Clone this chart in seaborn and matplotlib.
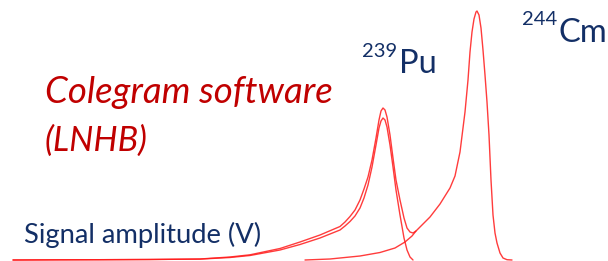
import matplotlib

matplotlib.use("Agg")
import matplotlib.pyplot as plt
import pandas as pd
import seaborn as sns

# ------------------------------
# DATA (amplitude in arbitrary units, counts above baseline)
# ------------------------------
pu_x = [13, 60, 100, 150, 200, 230, 250, 280, 300, 320, 340, 345, 350, 355, 360, 364,
        368, 372, 376, 379, 381, 383, 385, 387, 390, 393, 396, 400, 404, 407, 410, 413]
pu_counts = [0, 0.2, 0.3, 0.5, 0.9, 2.5, 4.5, 10, 15.5, 22, 30, 34, 38.5, 44, 52, 62,
             75, 93, 115, 132, 139, 142, 140, 133, 115, 93, 70, 45, 22, 10, 3, 0]

total_x = [13, 60, 100, 150, 200, 230, 250, 280, 300, 320, 340, 345, 350, 355, 360, 364,
           368, 372, 376, 379, 381, 383, 385, 387, 390, 393, 396, 400, 404, 407, 410, 413, 416]
total_counts = [0, 0.2, 0.3, 0.5, 1.0, 3, 5.2, 11.5, 18, 25, 33.5, 38, 43.5, 50, 60, 71,
                83, 100, 122, 140, 149, 152, 150, 143, 125, 102, 80, 60, 42, 32, 28, 27, 29]

cm_x = [305, 330, 360, 380, 395, 405, 412, 416, 420, 430, 440, 450, 455, 460,
        465, 468, 470, 472, 474, 476, 477, 479, 481, 483, 485, 487, 489, 491, 493,
        495, 497, 500, 503, 507, 512]
cm_counts = [0, 1.0, 4, 7.5, 12, 18, 24, 29, 33, 43, 56, 72, 84, 108,
             148, 180, 208, 228, 241, 248, 249, 245, 232, 210, 185, 158, 125, 80, 45,
             27, 17, 7, 2, 0.3, 0]

labels = {
    "software": ["Colegram software", "(LNHB)"],
    "axis": "Signal amplitude (V)",
    "pu": ("239", "Pu"),
    "cm": ("244", "Cm"),
}

# ------------------------------
# STYLE
# ------------------------------
sns.set_theme(style="white")
plt.rcParams["font.family"] = ["Lato", "DejaVu Sans"]

RED = "#ff1a1a"
DARK_RED = "#c00000"
NAVY = "#132f66"

fig = plt.figure(figsize=(6.08, 2.61), dpi=100)
ax = fig.add_axes([0, 0, 1, 1])

curves = [
    pd.DataFrame({"amp": pu_x, "counts": pu_counts}),
    pd.DataFrame({"amp": total_x, "counts": total_counts}),
    pd.DataFrame({"amp": cm_x, "counts": cm_counts}),
]
for df in curves:
    sns.lineplot(data=df, x="amp", y="counts", ax=ax, color=RED, lw=1.0,
                 alpha=0.85, sort=False, legend=False)

ax.set_xlim(0, 608)
ax.set_ylim(-1, 260)
ax.axis("off")

renderer = fig.canvas.get_renderer()


def fitted_text(x, y, s, width, **kw):
    # scale font so the rendered text spans `width` pixels
    t = ax.text(x, y, s, fontsize=20, va="baseline", **kw)
    w = t.get_window_extent(renderer).width
    t.set_fontsize(20 * width / w)
    return t


fitted_text(45, 260 - 103.3, labels["software"][0], 287, color=DARK_RED, style="italic")
fitted_text(45, 260 - 150.7, labels["software"][1], 103, color=DARK_RED, style="italic")
fitted_text(24, 260 - 243.3, labels["axis"], 238, color=NAVY)

fitted_text(362, 260 - 56.7, labels["pu"][0], 35, color=NAVY)
fitted_text(399, 260 - 73.3, labels["pu"][1], 38, color=NAVY)
fitted_text(522, 260 - 25, labels["cm"][0], 35, color=NAVY)
fitted_text(558, 260 - 41.7, labels["cm"][1], 49, color=NAVY)

fig.savefig("out.png", dpi=100)
